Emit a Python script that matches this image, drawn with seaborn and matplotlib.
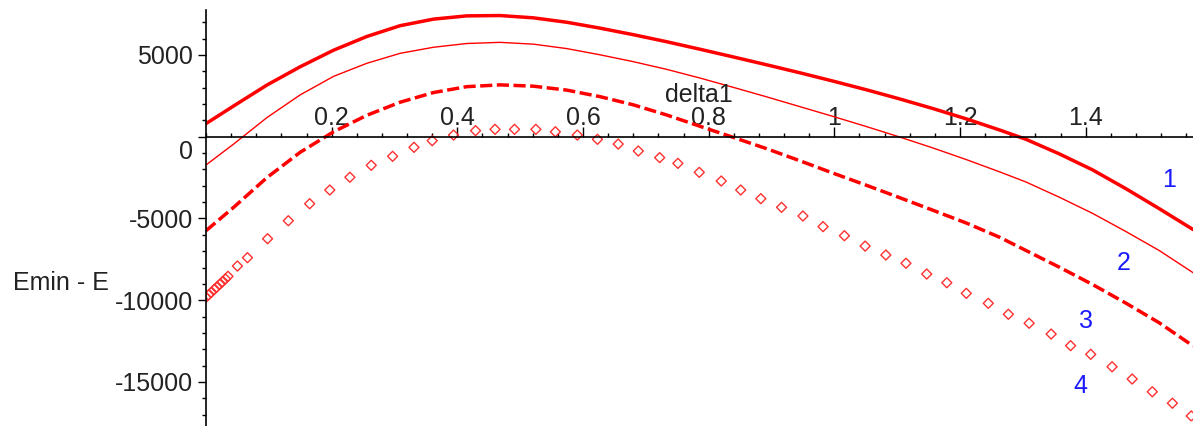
import numpy as np
import pandas as pd
import matplotlib
matplotlib.use("Agg")
import matplotlib.pyplot as plt
from matplotlib.ticker import MultipleLocator, FixedLocator
import seaborn as sns

# --- data (Maple-style plot, delta1 in [0, pi/2]) ---
delta = [0.000, 0.044, 0.097, 0.150, 0.203, 0.256, 0.309, 0.362, 0.415, 0.468,
         0.521, 0.574, 0.627, 0.680, 0.733, 0.786, 0.839, 0.892, 0.945, 0.998,
         1.051, 1.104, 1.157, 1.210, 1.263, 1.305, 1.358, 1.411, 1.464, 1.517, 1.571]

curve1 = [800, 1880, 3160, 4280, 5290, 6130, 6790, 7190, 7390, 7410,
          7270, 7000, 6640, 6240, 5810, 5350, 4880, 4400, 3910, 3400,
          2870, 2310, 1720, 1090, 410, -160, -1050, -2030, -3180, -4400, -5680]

curve2 = [-1730, -450, 1170, 2560, 3690, 4490, 5100, 5470, 5700, 5770,
          5660, 5390, 5010, 4590, 4120, 3590, 3020, 2440, 1840, 1240,
          620, -20, -690, -1400, -2150, -2770, -3700, -4690, -5800, -6960, -8320]

curve3 = [-5750, -4320, -2500, -950, 300, 1310, 2110, 2700, 3060, 3170,
          3090, 2850, 2450, 1950, 1330, 640, -40, -730, -1470, -2230,
          -2970, -3730, -4500, -5280, -6150, -6960, -7980, -9040, -10180, -11380, -12800]

# curve 4 is drawn as point markers only
delta4 = [0.000, 0.004, 0.008, 0.013, 0.017, 0.022, 0.026, 0.031, 0.035, 0.050,
          0.066, 0.098, 0.131, 0.165, 0.197, 0.229, 0.263, 0.297, 0.331, 0.360,
          0.394, 0.429, 0.460, 0.491, 0.525, 0.556, 0.591, 0.623, 0.656, 0.688,
          0.722, 0.751, 0.785, 0.820, 0.851, 0.883, 0.916, 0.950, 0.982, 1.016,
          1.049, 1.082, 1.114, 1.147, 1.179, 1.210, 1.245, 1.277, 1.310, 1.345,
          1.376, 1.408, 1.442, 1.474, 1.506, 1.538, 1.568]
curve4 = [-9820, -9680, -9530, -9350, -9200, -9030, -8870, -8700, -8540, -7910,
          -7400, -6240, -5140, -4100, -3260, -2480, -1750, -1200, -650, -245,
          100, 370, 450, 450, 450, 300, 100, -160, -450, -875,
          -1280, -1630, -2180, -2710, -3260, -3790, -4320, -4850, -5500, -6055,
          -6690, -7235, -7740, -8400, -8930, -9580, -10190, -10860, -11410, -12070,
          -12780, -13310, -14070, -14820, -15600, -16300, -17080]

x_ticks = [0.2, 0.4, 0.6, 0.8, 1.0, 1.2, 1.4]
x_tick_labels = ["0.2", "0.4", "0.6", "0.8", "1", "1.2", "1.4"]
y_ticks = [-15000, -10000, -5000, 0, 5000]
y_tick_labels = ["-15000", "-10000", "-5000", "", "5000"]

curve_labels = ["1", "2", "3", "4"]
label_pos = [(1.532, -2650), (1.460, -7725), (1.400, -11260), (1.391, -15250)]

df = pd.DataFrame({"delta1": delta, "c1": curve1, "c2": curve2, "c3": curve3})
df4 = pd.DataFrame({"delta1": delta4, "c4": curve4})

sns.set_style("white")
plt.rcParams["font.family"] = ["Liberation Sans", "DejaVu Sans"]
plt.rcParams["font.size"] = 18

RED = "#ff0000"
BLUE = "#1a1aff"
INK = "#222222"

fig = plt.figure(figsize=(11.93, 4.26), dpi=100)
ax = fig.add_axes([206 / 1193, 0, 987 / 1193, 416 / 426])

sns.lineplot(data=df, x="delta1", y="c1", ax=ax, color=RED, linewidth=2.5)
sns.lineplot(data=df, x="delta1", y="c2", ax=ax, color=RED, linewidth=1.0)
sns.lineplot(data=df, x="delta1", y="c3", ax=ax, color=RED, linewidth=2.5,
             linestyle=(0, (3.5, 1.3)))
sns.scatterplot(data=df4, x="delta1", y="c4", ax=ax, marker="D", s=26,
                facecolor="none", edgecolor="#ff3030", linewidth=1.0)

ax.set_xlim(0, np.pi / 2)
ax.set_ylim(-17694, 7749)

# axes crossing at the origin
for side in ["top", "right"]:
    ax.spines[side].set_visible(False)
ax.spines["bottom"].set_position(("data", 0))
for side in ["left", "bottom"]:
    ax.spines[side].set_linewidth(1.2)
    ax.spines[side].set_color("black")

ax.xaxis.set_major_locator(FixedLocator(x_ticks))
ax.set_xticklabels(x_tick_labels)
ax.xaxis.set_minor_locator(MultipleLocator(0.04))
ax.yaxis.set_major_locator(FixedLocator(y_ticks))
ax.set_yticklabels(y_tick_labels)
ax.yaxis.set_minor_locator(MultipleLocator(1000))

ax.tick_params(axis="x", which="both", direction="in", width=1.0, color="black",
               labelsize=18, pad=-22, bottom=True, top=False)
ax.tick_params(axis="x", which="major", length=7)
ax.tick_params(axis="x", which="minor", length=3)
ax.tick_params(axis="y", which="both", direction="out", width=1.0, color="black",
               labelsize=18, pad=3.8, left=True, right=False)
ax.tick_params(axis="y", which="major", length=5.5)
ax.tick_params(axis="y", which="minor", length=3)

ax.set_xlabel("")
ax.set_ylabel("")
# zero label sits just below the x axis, like Maple draws it
ax.annotate("0", xy=(0, 0), xytext=(-13, -15), textcoords="offset pixels",
            ha="right", va="center", fontsize=18, color=INK)
ax.text(0.784, 2120, "delta1", ha="center", va="baseline", fontsize=18, color=INK)
fig.text(13 / 1193, 1 - 283 / 426, "Emin - E", ha="left", va="center",
         fontsize=18, color=INK)

for lab, (lx, ly) in zip(curve_labels, label_pos):
    ax.text(lx, ly, lab, ha="center", va="center", fontsize=18, color=BLUE)

for lbl in ax.get_xticklabels() + ax.get_yticklabels():
    lbl.set_color(INK)

fig.savefig("out.png", dpi=100)
